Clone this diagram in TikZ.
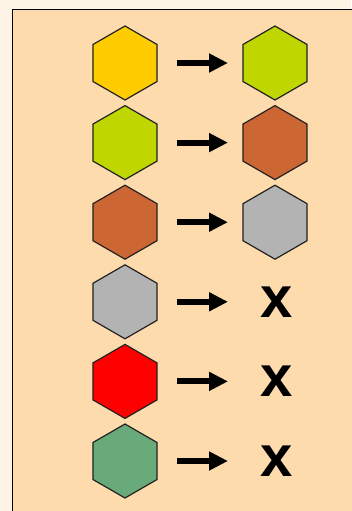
\documentclass[tikz,border=0pt]{standalone}
\usepackage{fontspec}
\setmainfont{Liberation Sans}
\usetikzlibrary{shapes.geometric,arrows.meta}
\definecolor{outerbg}{HTML}{FEF4E6}
\definecolor{innerbg}{HTML}{FDDBAC}
\definecolor{hyellow}{HTML}{FFCC00}
\definecolor{hlime}{HTML}{BFD600}
\definecolor{hbrown}{HTML}{CC6633}
\definecolor{hgray}{HTML}{B3B3B3}
\definecolor{hred}{HTML}{FF0000}
\definecolor{hgreen}{HTML}{69AA7A}
\definecolor{hline}{HTML}{222222}
\begin{document}
\begin{tikzpicture}[x=1pt,y=-1pt,
  hexa/.style={regular polygon, regular polygon sides=6, shape border rotate=30, minimum size=74pt, inner sep=0pt, draw=hline, line width=1.2pt},
  arr/.style={line width=6pt, -{Triangle[length=19pt,width=18pt]}},
  cross/.style={font=\bfseries\fontsize{58}{58}\selectfont, inner sep=0pt}]
\useasboundingbox (0,0) rectangle (351,511);
\fill[outerbg] (0,0) rectangle (351,511);
\draw[fill=innerbg, line width=1pt] (360,520) -- (12.5,520) -- (12.5,9.5) -- (360,9.5);
\foreach \i/\c in {1/hyellow,2/hlime,3/hbrown,4/hgray,5/hred,6/hgreen}{
  \node[hexa, fill=\c] (L\i) at (125,{63+(\i-1)*79.6}) {};
  \coordinate (A\i) at (177,{63+(\i-1)*79.6});
  \coordinate (B\i) at (228,{63+(\i-1)*79.6});
  \draw[arr] (A\i) -- (B\i);
}
\node[hexa, fill=hlime] (R1) at (275,63) {};
\node[hexa, fill=hbrown] (R2) at (275,142.6) {};
\node[hexa, fill=hgray] (R3) at (275,222.2) {};
\node[cross] (X4) at (277,301.8) {x};
\node[cross] (X5) at (277,381.4) {x};
\node[cross] (X6) at (277,461) {x};
\end{tikzpicture}
\end{document}
